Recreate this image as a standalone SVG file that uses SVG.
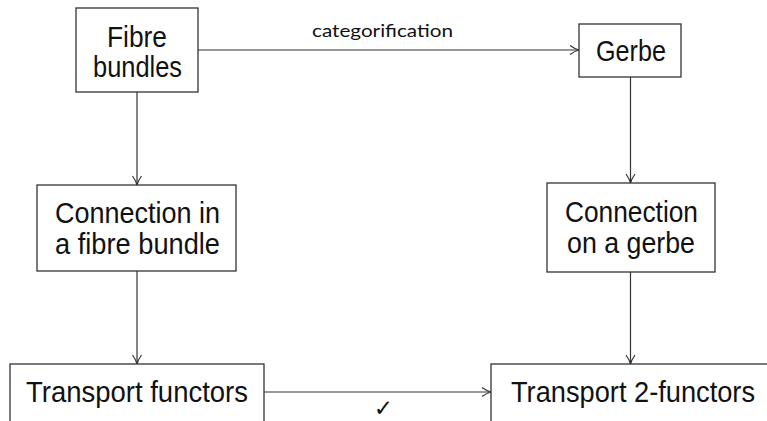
<svg xmlns="http://www.w3.org/2000/svg" width="767" height="421" viewBox="0 0 767 421">
  <style>
    .box { fill: #ffffff; stroke: #333333; stroke-width: 1.3; }
    .lbl { font-family: "Liberation Sans", Arial, sans-serif; font-size: 29px; fill: #111111; text-anchor: middle; }
    .edge { fill: none; stroke: #333333; stroke-width: 1.2; marker-end: url(#arr); }
    .elbl { font-family: Lato, "Open Sans", sans-serif; font-size: 17px; fill: #111111; text-anchor: middle; }
  </style>
  <defs>
    <marker id="arr" markerUnits="userSpaceOnUse" markerWidth="12" markerHeight="12" viewBox="-10 -6 12 12" refX="0" refY="0" orient="auto">
      <path d="M -9 -4.5 Q -4 -1 0 0 Q -4 1 -9 4.5" fill="none" stroke="#333333" stroke-width="1.2"/>
    </marker>
  </defs>
  <rect width="767" height="421" fill="#ffffff"/>

  <g id="connectors">
    <line class="edge" x1="198" y1="50" x2="579" y2="50"/>
    <text class="elbl" x="382.5" y="37" textLength="141" lengthAdjust="spacingAndGlyphs">categorification</text>
    <line class="edge" x1="137" y1="92" x2="137" y2="185"/>
    <line class="edge" x1="137" y1="271" x2="137" y2="364"/>
    <line class="edge" x1="630.5" y1="77" x2="630.5" y2="183"/>
    <line class="edge" x1="630.5" y1="272" x2="630.5" y2="364"/>
    <line class="edge" x1="264" y1="392" x2="491" y2="392"/>
    <text x="383.5" y="416" font-family="DejaVu Sans, sans-serif" font-size="23" fill="#111111" text-anchor="middle">✓</text>
  </g>

  <g id="fibre-bundles">
    <rect class="box" x="76" y="8" width="122" height="84"/>
    <text class="lbl" x="137" y="47" textLength="60" lengthAdjust="spacingAndGlyphs">Fibre</text>
    <text class="lbl" x="137.5" y="77" textLength="89" lengthAdjust="spacingAndGlyphs">bundles</text>
  </g>

  <g id="gerbe">
    <rect class="box" x="579" y="24" width="102" height="53"/>
    <text class="lbl" x="631" y="61" textLength="70" lengthAdjust="spacingAndGlyphs">Gerbe</text>
  </g>

  <g id="connection-fibre">
    <rect class="box" x="37" y="185" width="199" height="86"/>
    <text class="lbl" x="137.5" y="223" textLength="165" lengthAdjust="spacingAndGlyphs">Connection in</text>
    <text class="lbl" x="137.5" y="254" textLength="165" lengthAdjust="spacingAndGlyphs">a fibre bundle</text>
  </g>

  <g id="connection-gerbe">
    <rect class="box" x="547" y="183" width="168" height="89"/>
    <text class="lbl" x="631.5" y="222" textLength="133" lengthAdjust="spacingAndGlyphs">Connection</text>
    <text class="lbl" x="631" y="253" textLength="128" lengthAdjust="spacingAndGlyphs">on a gerbe</text>
  </g>

  <g id="transport-functors">
    <rect class="box" x="10" y="364" width="254" height="80"/>
    <text class="lbl" x="137" y="402" textLength="222" lengthAdjust="spacingAndGlyphs">Transport functors</text>
  </g>

  <g id="transport-2-functors">
    <rect class="box" x="491" y="364" width="300" height="80"/>
    <text class="lbl" x="633" y="402" textLength="244" lengthAdjust="spacingAndGlyphs">Transport 2-functors</text>
  </g>
</svg>
